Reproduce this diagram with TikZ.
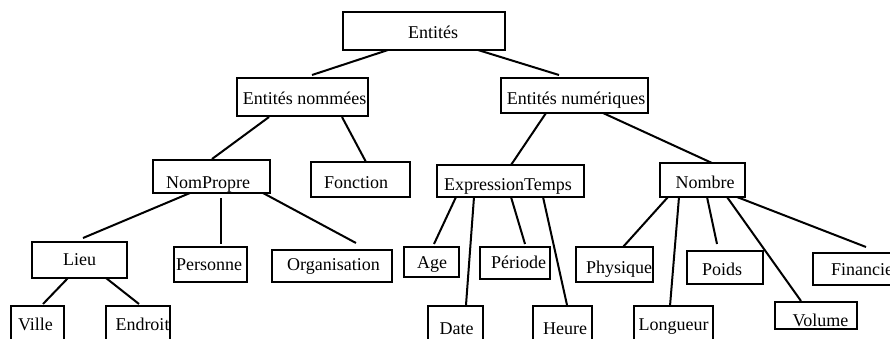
\documentclass[tikz,border=0pt]{standalone}
\usepackage{fontspec}
\setmainfont{Liberation Serif}
\newcommand\bt[3]{\smash{\makebox[0pt]{\hspace*{#1pt}\raisebox{-#2pt}{#3}\hspace*{-#1pt}}}}
\begin{document}
\begin{tikzpicture}[x=1pt, y=-1pt,
  box/.style={draw, rectangle, inner sep=0pt, outer sep=0pt, line width=2pt},
  sz/.style 2 args={minimum width=#1pt, minimum height=#2pt},
  link/.style={line width=2pt},
  font=\fontsize{18}{20}\selectfont]
\clip (0,0) rectangle (890,338);
% level 0
\node[box, sz={162}{38}] (root) at (424,31) {\bt{9}{7.3}{Entités}};
% level 1
\node[box, sz={131}{38}] (nommees) at (302.5,97) {\bt{2}{7}{Entités nommées}};
\node[box, sz={147}{35}] (numeriques) at (574.5,95.5) {\bt{1.5}{8.5}{Entités numériques}};
% level 2
\node[box, sz={117}{33}] (nompropre) at (211.5,176.5) {\bt{-3.5}{11.8}{NomPropre}};
\node[box, sz={99}{35}] (fonction) at (360.5,179.5) {\bt{-4.5}{8.8}{Fonction}};
\node[box, sz={147}{32}] (exprtemps) at (510.5,181) {\bt{-2.5}{9.7}{ExpressionTemps}};
\node[box, sz={85}{34}] (nombre) at (702.5,180) {\bt{2.5}{8.3}{Nombre}};
% level 3
\node[box, sz={95}{36}] (lieu) at (79.5,260) {\bt{0}{5}{Lieu}};
\node[box, sz={73}{35}] (personne) at (210.5,264.5) {\bt{-1.5}{6.2}{Personne}};
\node[box, sz={120}{32}] (organisation) at (332,266) {\bt{1.5}{4.7}{Organisation}};
\node[box, sz={55}{30}] (age) at (431.5,262) {\bt{0.5}{6.3}{Age}};
\node[box, sz={70}{32}] (periode) at (515,263) {\bt{3.5}{5.3}{Période}};
\node[box, sz={77}{35}] (physique) at (614.5,264.5) {\bt{4.5}{8.8}{Physique}};
\node[box, sz={76}{33}] (poids) at (725,267.5) {\bt{-3}{7.5}{Poids}};
\node[box, sz={104}{32}] (financier) at (865,269) {\bt{0}{6}{Financier}};
% level 4
\node[box, sz={53}{36}] (ville) at (37.5,324) {\bt{-2}{6.7}{Ville}};
\node[box, sz={64}{36}] (endroit) at (138,324) {\bt{4.5}{6.7}{Endroit}};
\node[box, sz={55}{36}] (date) at (455.5,324) {\bt{1}{10}{Date}};
\node[box, sz={59}{36}] (heure) at (562.5,324) {\bt{2.5}{10}{Heure}};
\node[box, sz={79}{36}] (longueur) at (673.5,324) {\bt{0}{6.7}{Longueur}};
\node[box, sz={82}{27}] (volume) at (816,315.5) {\bt{4.5}{10.5}{Volume}};
% connectors
\draw[link] ([xshift=-36pt]root.south) -- ([xshift=9.5pt,yshift=3pt]nommees.north);
\draw[link] ([xshift=54pt]root.south) -- ([xshift=-15.5pt,yshift=3pt]numeriques.north);
\draw[link] ([xshift=-33.5pt,yshift=-1pt]nommees.south) -- ([xshift=0.5pt,yshift=1pt]nompropre.north);
\draw[link] ([xshift=39.5pt,yshift=-1pt]nommees.south) -- ([xshift=5.5pt]fonction.north);
\draw[link] ([xshift=-28.5pt]numeriques.south) -- ([xshift=0.5pt]exprtemps.north);
\draw[link] ([xshift=28.5pt]numeriques.south) -- ([xshift=9.5pt]nombre.north);
\draw[link] ([xshift=-21.5pt]nompropre.south) -- ([xshift=3.5pt,yshift=4pt]lieu.north);
\draw[link] ([xshift=9.5pt,yshift=-5pt]nompropre.south) -- ([xshift=10.5pt,yshift=3pt]personne.north);
\draw[link] ([xshift=51.5pt]nompropre.south) -- ([xshift=24pt,yshift=7pt]organisation.north);
\draw[link] ([xshift=-11.5pt]lieu.south) -- ([xshift=5.5pt,yshift=2pt]ville.north);
\draw[link] ([xshift=26.5pt]lieu.south) -- ([xshift=1pt,yshift=2pt]endroit.north);
\draw[link] ([xshift=-54.5pt]exprtemps.south) -- ([xshift=2.5pt,yshift=3pt]age.north);
\draw[link] ([xshift=-36.5pt]exprtemps.south) -- ([xshift=10.5pt,yshift=1pt]date.north);
\draw[link] ([xshift=0.5pt]exprtemps.south) -- ([xshift=10pt,yshift=3pt]periode.north);
\draw[link] ([xshift=32.5pt]exprtemps.south) -- ([xshift=4.5pt,yshift=1pt]heure.north);
\draw[link] ([xshift=-34.5pt]nombre.south) -- ([xshift=8.5pt]physique.north);
\draw[link] ([xshift=-23.5pt]nombre.south) -- ([xshift=-3.5pt]longueur.north);
\draw[link] ([xshift=4.5pt]nombre.south) -- ([xshift=-8pt,yshift=7pt]poids.north);
\draw[link] ([xshift=24.5pt]nombre.south) -- ([xshift=-15pt,yshift=1pt]volume.north);
\draw[link] ([xshift=34.5pt]nombre.south) -- ([xshift=1pt,yshift=6pt]financier.north);
\end{tikzpicture}
\end{document}
